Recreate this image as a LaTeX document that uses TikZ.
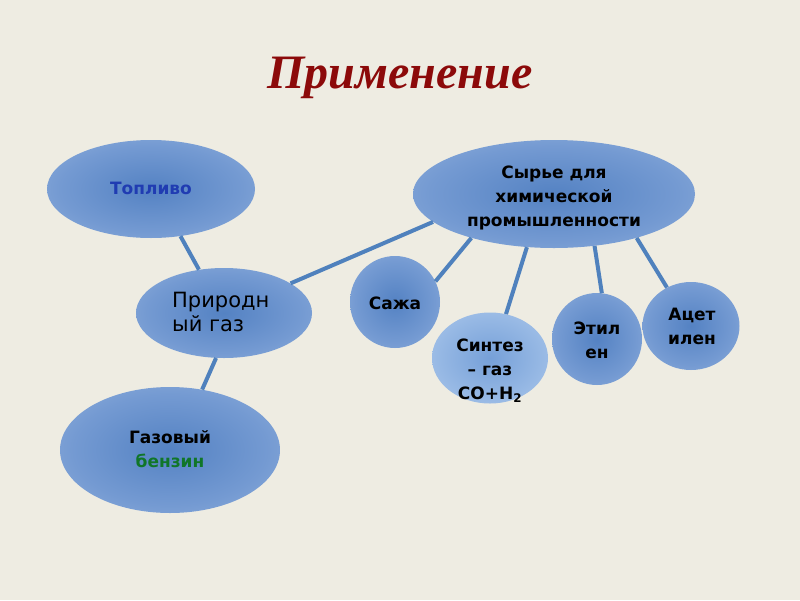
\documentclass[tikz,border=0pt]{standalone}
\usepackage{fontspec}
\setmainfont{DejaVu Sans}
\newfontfamily\titlefont{Liberation Serif}
\usetikzlibrary{shapes.geometric}
\definecolor{bgcol}{RGB}{238,236,226}
\definecolor{linkblue}{RGB}{79,129,189}
\definecolor{titlered}{RGB}{140,10,10}
\definecolor{fuelblue}{RGB}{32,60,178}
\definecolor{benzgreen}{RGB}{16,118,40}
\definecolor{blobin}{RGB}{84,130,195}
\definecolor{blobmid}{RGB}{116,154,210}
\definecolor{blobout}{RGB}{172,197,229}
\definecolor{litein}{RGB}{118,160,216}
\definecolor{litemid}{RGB}{150,184,228}
\definecolor{liteout}{RGB}{196,216,242}
\pgfdeclareradialshading{blobshade}{\pgfpoint{0bp}{0bp}}{color(0bp)=(blobin); color(22bp)=(blobmid); color(50bp)=(blobout)}
\pgfdeclareradialshading{liteshade}{\pgfpoint{0bp}{0bp}}{color(0bp)=(litein); color(22bp)=(litemid); color(50bp)=(liteout)}
\tikzset{
  blob/.style={ellipse, inner sep=0pt, draw=none, shading=blobshade},
  liteblob/.style={ellipse, inner sep=0pt, draw=none, shading=liteshade},
  lbl/.style={inner sep=0pt, align=center, font=\bfseries\fontsize{17}{24}\selectfont},
  plainlbl/.style={inner sep=0pt, align=left, font=\fontsize{21}{24}\selectfont},
  link/.style={draw=linkblue, line width=4pt},
  titlestyle/.style={inner sep=0pt, text=titlered, font=\titlefont\bfseries\itshape\fontsize{48}{52}\selectfont}
}
\begin{document}
\begin{tikzpicture}[x=1pt,y=-1pt]
\fill[bgcol] (0,0) rectangle (800,600);
\useasboundingbox (0,0) rectangle (800,600);
\node[titlestyle] (title) at (400,78) {Применение};
% ellipses
\node[blob, minimum width=208pt, minimum height=98pt] (fuel) at (151,189) {};
\node[blob, minimum width=282pt, minimum height=108pt] (raw) at (554,194) {};
\node[blob, minimum width=176pt, minimum height=90pt] (gas) at (224,313) {};
\node[blob, minimum width=90pt, minimum height=92pt] (soot) at (395,302) {};
\node[liteblob, minimum width=116pt, minimum height=91pt] (syn) at (490,358) {};
\node[blob, minimum width=90pt, minimum height=92pt] (eth) at (597,339) {};
\node[blob, minimum width=97pt, minimum height=88pt] (acet) at (691,326) {};
\node[blob, minimum width=220pt, minimum height=126pt] (benz) at (170,450) {};
% links
\draw[link] (fuel.-58) -- (gas.120);
\draw[link] (gas.-100) -- (benz.62);
\draw[link] (gas.24) -- (raw.-167);
\draw[link] (raw.-152) -- (soot.27);
\draw[link] (raw.-117) -- (syn.70);
\draw[link] (raw.-52) -- (eth.84);
\draw[link] (raw.-28) -- (acet.122);
% labels
\node[lbl, text=fuelblue] (tfuel) at (151,188) {Топливо};
\node[lbl] (traw) at (554,198) {Сырье для\\химической\\промышленности};
\node[plainlbl, anchor=west] (tgas) at (172,312) {Природн\\ый газ};
\node[lbl] (tsoot) at (395,303) {Сажа};
\node[lbl] (tsyn) at (490,371) {Синтез\\– газ\\CO+H\textsubscript{2}};
\node[lbl] (teth) at (597,340) {Этил\\ен};
\node[lbl] (tacet) at (692,326) {Ацет\\илен};
\node[lbl] (tbenz) at (170,449) {Газовый\\\textcolor{benzgreen}{бензин}};
\end{tikzpicture}
\end{document}
